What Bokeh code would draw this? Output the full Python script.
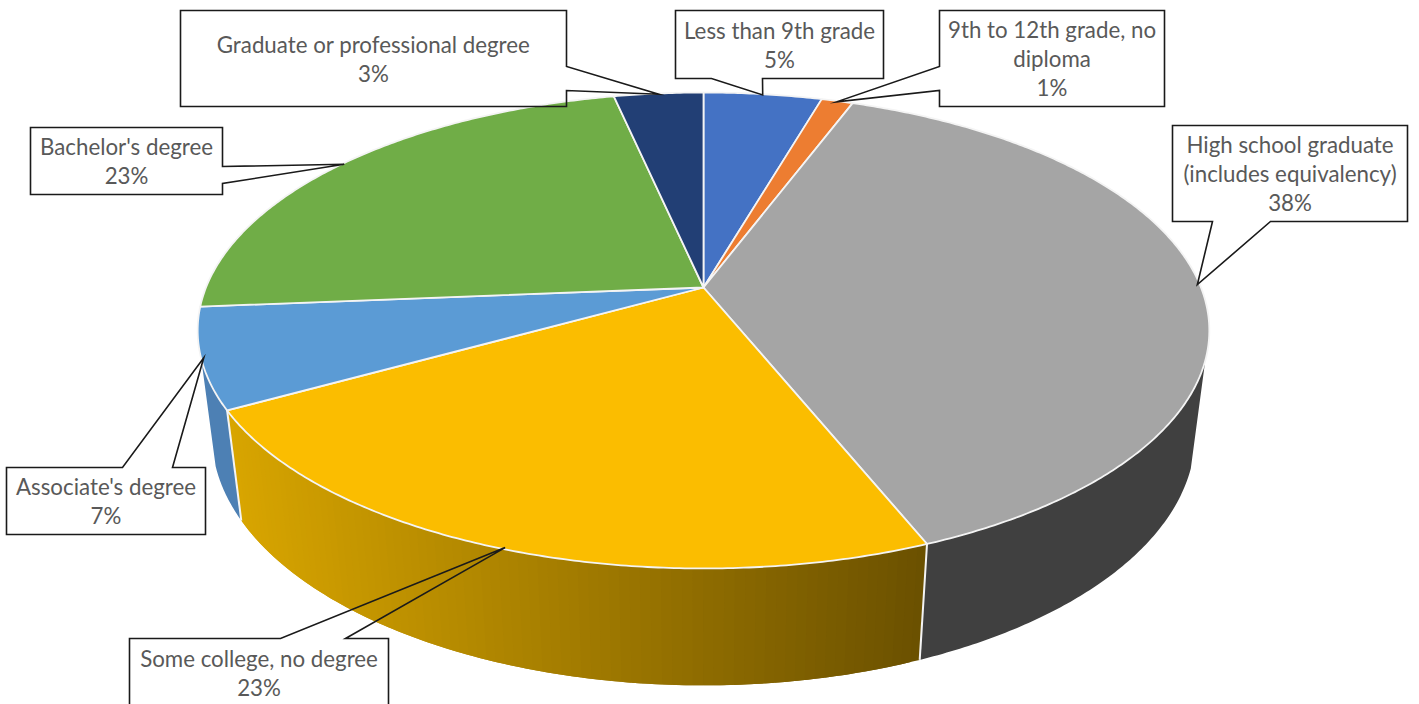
import math
import numpy as np
from bokeh.core.properties import value
from bokeh.embed import file_html
from bokeh.models import ColumnDataSource, Range1d
from bokeh.plotting import figure
from bokeh.resources import INLINE

# Educational attainment shares, in percent, clockwise from twelve o'clock
categories = [
    "Less than 9th grade",
    "9th to 12th grade, no diploma",
    "High school graduate (includes equivalency)",
    "Some college, no degree",
    "Associate's degree",
    "Bachelor's degree",
    "Graduate or professional degree",
]
shares = [4.5, 1.2, 38.2, 23.0, 6.8, 22.9, 3.4]
top_colors = ["#4472c4", "#ed7d31", "#a5a5a5", "#fbbd00", "#5b9bd5", "#70ad47", "#223f75"]
wall_left_colors = ["#3a62a8", "#c96a2a", "#404040", "#d8a500", "#4d80b4", "#5f933c", "#1d3564"]
wall_right_colors = ["#3a62a8", "#c96a2a", "#404040", "#6a5000", "#4d80b4", "#5f933c", "#1d3564"]

# Wrapped label lines for each callout
label_lines = [
    ["Less than 9th grade"],
    ["9th to 12th grade, no", "diploma"],
    ["High school graduate", "(includes equivalency)"],
    ["Some college, no degree"],
    ["Associate's degree"],
    ["Bachelor's degree"],
    ["Graduate or professional degree"],
]

# Callout layout: box (left, top, right, bottom) and the two points where the
# pointer leaves the box outline
boxes = [
    (675, 10, 883, 78),
    (939, 10, 1164, 106),
    (1172, 125, 1407, 221),
    (129, 638, 388, 707),
    (6, 467, 205, 534),
    (30, 127, 222, 194),
    (180, 10, 566, 106),
]
pointer_roots = [
    ((711, 78), (762, 78)),
    ((939, 66), (939, 90)),
    ((1212, 221), (1270, 221)),
    ((280, 638), (345, 638)),
    ((122, 467), (172, 467)),
    ((222, 166), (222, 183)),
    ((566, 66), (566, 90)),
]

# Perspective projection of the disc onto the page
APEX_X, APEX_Y = 703.0, 287.0
SCALE_X, SCALE_Y = 497.5, 230.2
TILT = 0.1807
DEPTH_W, DEPTH_Y = 0.028, 106.9
TIP_REACH = 0.995

LINE_STEP = 29
TEXT_NUDGE = 0.4
FONT_SIZE = "22.3px"
FONT = "Lato"
TEXT_COLOR = "#595959"


def project(theta_deg, depth=0.0, reach=1.0):
    theta = np.radians(np.asarray(theta_deg, dtype=float))
    across = np.sin(theta) * reach
    toward = -np.cos(theta) * reach
    w = 1 - TILT * toward + DEPTH_W * depth
    return (
        APEX_X + SCALE_X * across / w,
        APEX_Y + (SCALE_Y * toward + DEPTH_Y * depth) / w,
    )


def mix(left, right, t):
    a = [int(left[i:i + 2], 16) for i in (1, 3, 5)]
    b = [int(right[i:i + 2], 16) for i in (1, 3, 5)]
    return "#" + "".join(f"{round(p + (q - p) * t):02x}" for p, q in zip(a, b))


edges = np.concatenate([[0.0], np.cumsum(shares)]) * 3.6
mids = (edges[:-1] + edges[1:]) / 2

p = figure(
    width=1419,
    height=704,
    x_range=Range1d(0, 1419),
    y_range=Range1d(704, 0),
    output_backend="svg",
    toolbar_location=None,
    min_border=0,
    outline_line_color=None,
    background_fill_color="white",
    border_fill_color="white",
)
p.axis.visible = False
p.grid.visible = False

# Side wall of the front half, painted in overlapping strips so that it can
# shade from left to right without seams
VISIBLE_FROM, VISIBLE_TO = 107.5, 253.0
STRIP = 1.0
xs, ys, strip_colors = [], [], []
for i in range(len(shares)):
    a0 = max(edges[i], VISIBLE_FROM)
    a1 = min(edges[i + 1], VISIBLE_TO)
    if a1 <= a0:
        continue
    wx0 = float(project(a1)[0])
    wx1 = float(project(a0)[0])
    # Wall sections in one flat colour need only one strip
    flat = wall_left_colors[i] == wall_right_colors[i]
    starts = [a0] if flat else np.arange(a0, a1, STRIP)
    for t0 in starts:
        t1 = a1 if flat else min(t0 + 2 * STRIP, a1)
        angles = np.linspace(t0, t1, max(2, int((t1 - t0) * 2)))
        tx, ty = project(angles)
        bx, by = project(angles[::-1], 1.0)
        xs.append(list(tx) + list(bx))
        ys.append(list(ty) + list(by))
        frac = (tx.mean() - wx0) / (wx1 - wx0)
        strip_colors.append(mix(wall_left_colors[i], wall_right_colors[i], float(np.clip(frac, 0, 1))))
p.patches(
    "x", "y", source=ColumnDataSource(dict(x=xs, y=ys, c=strip_colors)),
    fill_color="c", line_color=None,
)

# Pale seams between the wall sections
for edge in edges:
    if VISIBLE_FROM < edge < VISIBLE_TO:
        sx, sy = project(edge, 0.0)
        ex, ey = project(edge, 1.0)
        p.line([float(sx), float(ex)], [float(sy), float(ey)], line_color="#f4f4f4", line_width=2)

# Top face of the disc, one wedge per category
top_x, top_y = [], []
for i in range(len(shares)):
    angles = np.linspace(edges[i], edges[i + 1], max(4, int((edges[i + 1] - edges[i]) * 2)))
    rx, ry = project(angles)
    top_x.append([APEX_X] + list(rx))
    top_y.append([APEX_Y] + list(ry))
p.patches(
    "x", "y",
    source=ColumnDataSource(dict(x=top_x, y=top_y, c=top_colors)),
    fill_color="c", line_color="#f4f4f4", line_width=1.8, line_join="round",
)

# Callouts: transparent outlines whose pointers reach the rim at the middle of
# each wedge
call_x, call_y = [], []
for box, roots, mid in zip(boxes, pointer_roots, mids):
    left, top, right, bottom = box
    tip = tuple(float(v) for v in project(mid, 0.0, TIP_REACH))
    first, second = roots
    if first[1] == second[1]:
        if first[1] == bottom:
            path = [(left, top), (right, top), (right, bottom), second, tip, first, (left, bottom)]
        else:
            path = [(left, top), first, tip, second, (right, top), (right, bottom), (left, bottom)]
    elif first[0] == right:
        path = [(left, top), (right, top), first, tip, second, (right, bottom), (left, bottom)]
    else:
        path = [(left, top), (right, top), (right, bottom), (left, bottom), second, tip, first]
    call_x.append([pt[0] for pt in path])
    call_y.append([pt[1] for pt in path])
p.patches(call_x, call_y, fill_alpha=0, line_color="#1a1a1a", line_width=1.6, line_join="miter")

# Callout texts, with the rounded percentage on the last line
text_x, text_y, text_s = [], [], []
for box, lines, share in zip(boxes, label_lines, shares):
    left, top, right, bottom = box
    rows = lines + [f"{math.floor(share + 0.5)}%"]
    cx = (left + right) / 2
    cy = (top + bottom) / 2
    start = cy - LINE_STEP * (len(rows) - 1) / 2 + TEXT_NUDGE
    for k, row in enumerate(rows):
        text_x.append(cx)
        text_y.append(start + k * LINE_STEP)
        text_s.append(row)
p.text(
    text_x, text_y, text=text_s,
    text_align="center", text_baseline="middle",
    text_font=value(FONT), text_font_size=FONT_SIZE, text_color=TEXT_COLOR,
)

open("out.html", "w").write(file_html(p, INLINE))
